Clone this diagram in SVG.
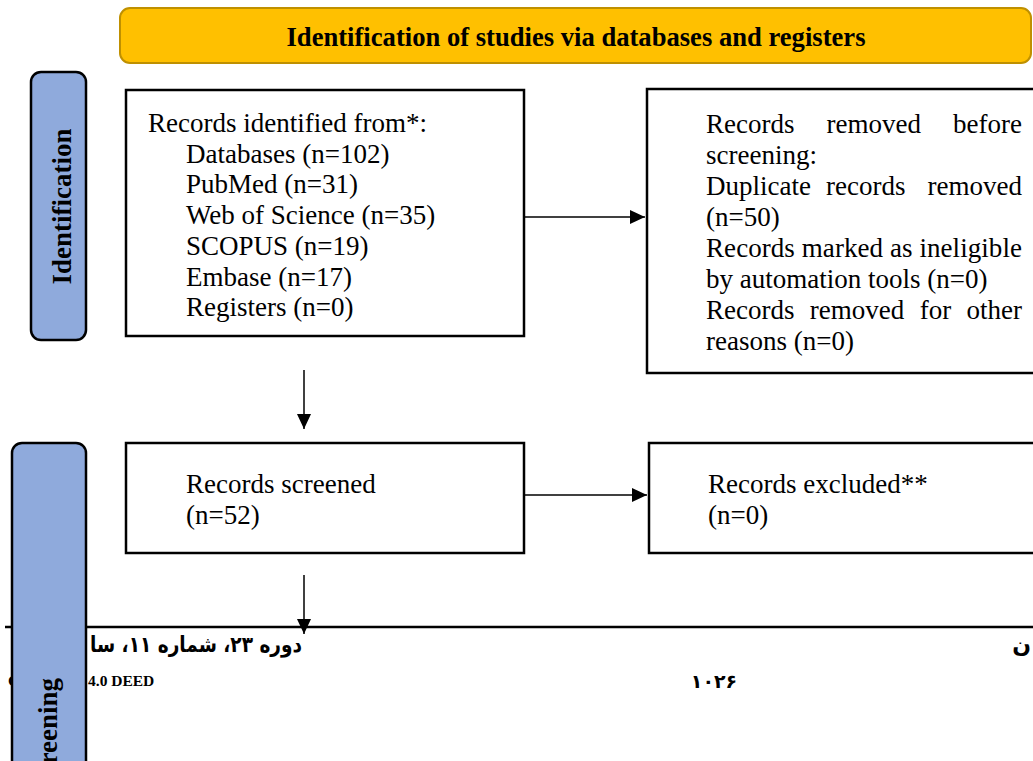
<svg xmlns="http://www.w3.org/2000/svg" width="1033" height="761" viewBox="0 0 1033 761">
<defs>
<marker id="ah" markerUnits="userSpaceOnUse" markerWidth="15" markerHeight="14" refX="15" refY="7" orient="auto">
<path d="M0,0 L15,7 L0,14 z" fill="#000"/>
</marker>
<style>
.box{fill:#fff;stroke:#000;stroke-width:2.5}
.side{fill:#8FAADC;stroke:#000;stroke-width:2.5}
.t{font-family:"Liberation Serif","Times New Roman",serif;font-size:27px;fill:#000}
.tb{font-family:"Liberation Serif","Times New Roman",serif;font-size:27px;font-weight:bold;fill:#000}
.fa{font-family:"DejaVu Sans","Noto Sans",sans-serif;font-weight:bold;fill:#000}
.conn{stroke:#000;stroke-width:1.5;fill:none}
</style>
</defs>
<rect width="1033" height="761" fill="#fff"/>

<g id="footer">
<line x1="5" y1="627" x2="1033" y2="627" stroke="#000" stroke-width="2.5"/>
<text class="fa" x="302" y="652" font-size="22" text-anchor="end" textLength="212" lengthAdjust="spacingAndGlyphs">دوره ۲۳، شماره ۱۱، سا</text>
<text class="fa" x="1031" y="652" font-size="22" text-anchor="end">ن</text>
<text class="fa" x="714" y="688" font-size="19" text-anchor="middle">۱۰۲۶</text>
<text x="88" y="686" font-family="Liberation Serif, serif" font-weight="bold" font-size="15.5">4.0 DEED</text>
<text x="8" y="686" font-family="Liberation Serif, serif" font-weight="bold" font-size="15.5">C</text>
</g>

<g id="banner">
<rect x="120" y="8" width="911" height="55" rx="10" fill="#FFC000" stroke="#BF9000" stroke-width="2"/>
<text class="tb" x="576" y="46" text-anchor="middle" textLength="579" lengthAdjust="spacingAndGlyphs">Identification of studies via databases and registers</text>
</g>

<g id="identification-label">
<rect class="side" x="31" y="72" width="55" height="268" rx="10"/>
<text class="tb" transform="translate(71,206.5) rotate(-90)" text-anchor="middle">Identification</text>
</g>

<g id="records-identified">
<rect class="box" x="126" y="90" width="398" height="246"/>
<text class="t" x="148" y="132">Records identified from*:</text>
<text class="t" x="186" y="162.7">Databases (n=102)</text>
<text class="t" x="186" y="193.4">PubMed (n=31)</text>
<text class="t" x="186" y="224">Web of Science (n=35)</text>
<text class="t" x="186" y="254.8">SCOPUS (n=19)</text>
<text class="t" x="186" y="285.5">Embase (n=17)</text>
<text class="t" x="186" y="316.2">Registers (n=0)</text>
</g>

<g id="records-removed">
<rect class="box" x="647" y="89" width="400" height="284"/>
<text class="t" x="706" y="133">Records</text>
<text class="t" x="826.5" y="133">removed</text>
<text class="t" x="1022" y="133" text-anchor="end">before</text>
<text class="t" x="706" y="164">screening:</text>
<text class="t" x="706" y="195">Duplicate</text>
<text class="t" x="826" y="195">records</text>
<text class="t" x="1022" y="195" text-anchor="end">removed</text>
<text class="t" x="706" y="226">(n=50)</text>
<text class="t" x="706" y="256.5" textLength="316" lengthAdjust="spacing">Records marked as ineligible</text>
<text class="t" x="706" y="287.5">by automation tools (n=0)</text>
<text class="t" x="706" y="318.5">Records</text>
<text class="t" x="809.8" y="318.5">removed</text>
<text class="t" x="919.7" y="318.5">for</text>
<text class="t" x="1022" y="318.5" text-anchor="end">other</text>
<text class="t" x="706" y="349.5">reasons (n=0)</text>
</g>

<g id="screening-label">
<rect class="side" x="12" y="443" width="74" height="400" rx="10"/>
<text class="tb" transform="translate(57,678) rotate(-90)" text-anchor="end">Screening</text>
</g>

<g id="records-screened">
<rect class="box" x="126" y="443" width="398" height="110"/>
<text class="t" x="186" y="493">Records screened</text>
<text class="t" x="186" y="524">(n=52)</text>
</g>

<g id="records-excluded">
<rect class="box" x="649" y="443" width="400" height="110"/>
<text class="t" x="708" y="493">Records excluded**</text>
<text class="t" x="708" y="524">(n=0)</text>
</g>

<g id="connectors">
<line class="conn" x1="524" y1="217" x2="645" y2="217" marker-end="url(#ah)"/>
<line class="conn" x1="304" y1="370" x2="304" y2="429" marker-end="url(#ah)"/>
<line class="conn" x1="524" y1="495" x2="647" y2="495" marker-end="url(#ah)"/>
<line class="conn" x1="304" y1="575" x2="304" y2="634" marker-end="url(#ah)"/>
</g>
</svg>
